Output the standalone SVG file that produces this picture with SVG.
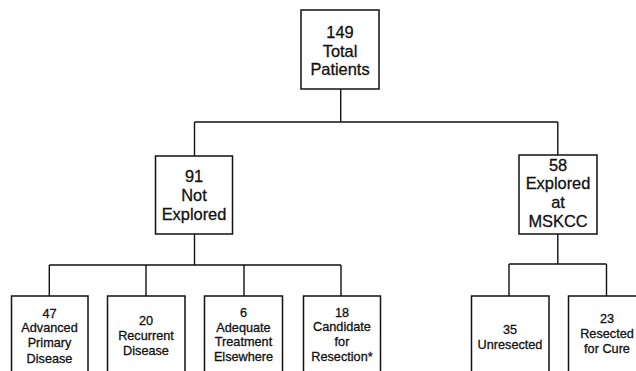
<svg xmlns="http://www.w3.org/2000/svg" width="636" height="371" viewBox="0 0 636 371">
<style>
.box{fill:#fff;stroke:#111;stroke-width:1.5}
.ln{fill:none;stroke:#111;stroke-width:1.4}
text{font-family:"Liberation Sans",Arial,Helvetica,sans-serif;fill:#111;stroke:#111;stroke-width:0.3;text-anchor:middle}
.big{font-size:16.4px}
.sm{font-size:12.7px}
</style>
<rect width="636" height="371" fill="#fff"/>
<g id="connectors">
<path class="ln" d="M340.7,89 V122 M194.5,122 H557.8 M194.5,122 V156 M557.8,122 V155"/>
<path class="ln" d="M194.5,234 V265 M49.3,265 H341 M49.3,265 V296 M146,265 V296 M244,265 V296 M341,265 V296"/>
<path class="ln" d="M557.8,234 V264 M509,264 H606.5 M509,264 V296 M606.5,264 V296"/>
</g>
<g id="total">
<rect class="box" x="301" y="10" width="78" height="79"/>
<text class="big" x="340" y="37.7">149</text>
<text class="big" x="340" y="56.5">Total</text>
<text class="big" x="340" y="75">Patients</text>
</g>
<g id="not-explored">
<rect class="box" x="155.5" y="156" width="77" height="78"/>
<text class="big" x="194" y="181.7">91</text>
<text class="big" x="194" y="201">Not</text>
<text class="big" x="194" y="220">Explored</text>
</g>
<g id="explored">
<rect class="box" x="519" y="155" width="78" height="79"/>
<text class="big" x="558" y="170.7">58</text>
<text class="big" x="558" y="189.4">Explored</text>
<text class="big" x="558" y="208.1">at</text>
<text class="big" x="558" y="227">MSKCC</text>
</g>
<g id="advanced">
<rect class="box" x="11.5" y="296" width="76.5" height="90"/>
<text class="sm" x="49.5" y="317.5">47</text>
<text class="sm" x="49.5" y="332">Advanced</text>
<text class="sm" x="49.5" y="347.3">Primary</text>
<text class="sm" x="49.5" y="363">Disease</text>
</g>
<g id="recurrent">
<rect class="box" x="107.5" y="296" width="77.5" height="90"/>
<text class="sm" x="146" y="324.5">20</text>
<text class="sm" x="146" y="339.5">Recurrent</text>
<text class="sm" x="146" y="355">Disease</text>
</g>
<g id="adequate">
<rect class="box" x="204.5" y="296" width="78" height="90"/>
<text class="sm" x="243.5" y="317.3">6</text>
<text class="sm" x="243.5" y="331.5">Adequate</text>
<text class="sm" x="243.5" y="345.5">Treatment</text>
<text class="sm" x="243.5" y="361">Elsewhere</text>
</g>
<g id="candidate">
<rect class="box" x="303.5" y="296" width="77" height="90"/>
<text class="sm" x="342" y="317.3">18</text>
<text class="sm" x="342" y="330.7">Candidate</text>
<text class="sm" x="342" y="345.7">for</text>
<text class="sm" x="342" y="361">Resection*</text>
</g>
<g id="unresected">
<rect class="box" x="471.5" y="296" width="77.5" height="90"/>
<text class="sm" x="510" y="334.3">35</text>
<text class="sm" x="510" y="349.3">Unresected</text>
</g>
<g id="resected">
<rect class="box" x="568.5" y="296" width="77" height="90"/>
<text class="sm" x="607" y="323.3">23</text>
<text class="sm" x="607" y="338.3">Resected</text>
<text class="sm" x="607" y="353.3">for Cure</text>
</g>
</svg>
